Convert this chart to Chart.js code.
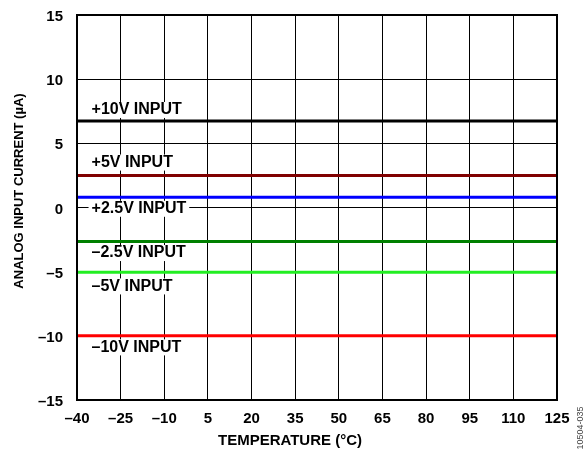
<!DOCTYPE html>
<html><head><meta charset="utf-8">
<script src="https://cdn.jsdelivr.net/npm/chart.js@4/dist/chart.umd.min.js"></script>
<style>html,body{margin:0;padding:0;background:#fff}#wrap{width:585px;height:452px;position:relative}</style>
</head><body><div id="wrap"><canvas id="c" width="585" height="452"></canvas></div>
<script>
const temperatures = [-40, -25, -10, 5, 20, 35, 50, 65, 80, 95, 110, 125];
const seriesNames = ['+10V INPUT', '+5V INPUT', '+2.5V INPUT', '–2.5V INPUT', '–5V INPUT', '–10V INPUT'];
const input10V  = [6.75, 6.75, 6.75, 6.75, 6.75, 6.75, 6.75, 6.75, 6.75, 6.75, 6.75, 6.75];
const input5V   = [2.5, 2.5, 2.5, 2.5, 2.5, 2.5, 2.5, 2.5, 2.5, 2.5, 2.5, 2.5];
const input2p5V = [0.8, 0.8, 0.8, 0.8, 0.8, 0.8, 0.8, 0.8, 0.8, 0.8, 0.8, 0.8];
const inputM2p5V = [-2.65, -2.65, -2.65, -2.65, -2.65, -2.65, -2.65, -2.65, -2.65, -2.65, -2.65, -2.65];
const inputM5V  = [-5.05, -5.05, -5.05, -5.05, -5.05, -5.05, -5.05, -5.05, -5.05, -5.05, -5.05, -5.05];
const inputM10V = [-10.0, -10.0, -10.0, -10.0, -10.0, -10.0, -10.0, -10.0, -10.0, -10.0, -10.0, -10.0];
const seriesColors = ['#000000', '#800000', '#0000ff', '#008000', '#22ee22', '#ff0000'];
// label anchor positions (data coordinates)
const labelX = [-35, -35, -35, -35, -35, -35];
const labelY = [7.6, 3.5, -0.1, -3.55, -6.15, -10.9];
const xTicks = { min: -40, max: 125, step: 15 };
const yTicks = { min: -15, max: 15, step: 5 };

const FONT = "Arial, 'Liberation Sans', sans-serif";
const allSeries = [input10V, input5V, input2p5V, inputM2p5V, inputM5V, inputM10V];

const datasets = allSeries.map((vals, i) => ({
  label: seriesNames[i],
  data: temperatures.map((t, j) => ({ x: t, y: vals[j] })),
  borderColor: seriesColors[i],
  borderWidth: 3,
  pointRadius: 0,
  tension: 0,
  fill: false
}));

const dash = v => (v < 0 ? '–' + Math.abs(v) : String(v));

const overlay = {
  id: 'overlay',
  afterDatasetsDraw(chart) {
    const ctx = chart.ctx, xs = chart.scales.x, ys = chart.scales.y, a = chart.chartArea;
    ctx.save();
    ctx.strokeStyle = '#000'; ctx.lineWidth = 2;
    ctx.strokeRect(a.left, a.top, a.right - a.left, a.bottom - a.top);
    ctx.font = 'bold 16px ' + FONT;
    ctx.textBaseline = 'middle'; ctx.textAlign = 'left';
    seriesNames.forEach((s, i) => {
      const px = xs.getPixelForValue(labelX[i]);
      const py = ys.getPixelForValue(labelY[i]);
      const w = ctx.measureText(s).width;
      ctx.fillStyle = '#fff';
      ctx.fillRect(px - 3, py - 8, w + 6, 16);
      ctx.fillStyle = '#000';
      ctx.fillText(s, px, py);
    });
    ctx.restore();
  },
  afterDraw(chart) {
    const ctx = chart.ctx;
    ctx.save();
    ctx.fillStyle = '#000';
    ctx.textAlign = 'center'; ctx.textBaseline = 'middle';
    ctx.font = 'bold 15px ' + FONT;
    ctx.fillText('TEMPERATURE (°C)', 290, 441);
    ctx.translate(19, 191);
    ctx.rotate(-Math.PI / 2);
    ctx.font = 'bold 13px ' + FONT;
    ctx.fillText('ANALOG INPUT CURRENT (µA)', 0, 0);
    ctx.restore();
    ctx.save();
    ctx.translate(581, 428);
    ctx.rotate(-Math.PI / 2);
    ctx.font = '9px ' + FONT;
    ctx.fillStyle = '#444';
    ctx.textAlign = 'center'; ctx.textBaseline = 'middle';
    ctx.fillText('10504-035', 0, 0);
    ctx.restore();
  }
};

new Chart(document.getElementById('c'), {
  type: 'line',
  data: { datasets },
  options: {
    responsive: false,
    animation: false,
    devicePixelRatio: 1,
    layout: { padding: { top: 15, right: 28, left: 0, bottom: 0 } },
    plugins: { legend: { display: false }, tooltip: { enabled: false } },
    scales: {
      x: {
        type: 'linear', min: xTicks.min, max: xTicks.max,
        ticks: { stepSize: xTicks.step, color: '#000', font: { family: FONT, size: 15, weight: 'bold' }, padding: 10, callback: dash, maxRotation: 0, autoSkip: false },
        grid: { color: '#000', lineWidth: 1, drawTicks: false },
        border: { color: '#000', width: 2 },
        afterFit(s) { s.height = 52; }
      },
      y: {
        type: 'linear', min: yTicks.min, max: yTicks.max,
        ticks: { stepSize: yTicks.step, color: '#000', font: { family: FONT, size: 15, weight: 'bold' }, padding: 14, labelOffset: 2, callback: dash },
        grid: { color: '#000', lineWidth: 1, drawTicks: false },
        border: { color: '#000', width: 2 },
        afterFit(s) { s.width = 77; s.paddingTop = 0; s.paddingBottom = 0; }
      }
    }
  },
  plugins: [overlay]
});
</script>
</body></html>
